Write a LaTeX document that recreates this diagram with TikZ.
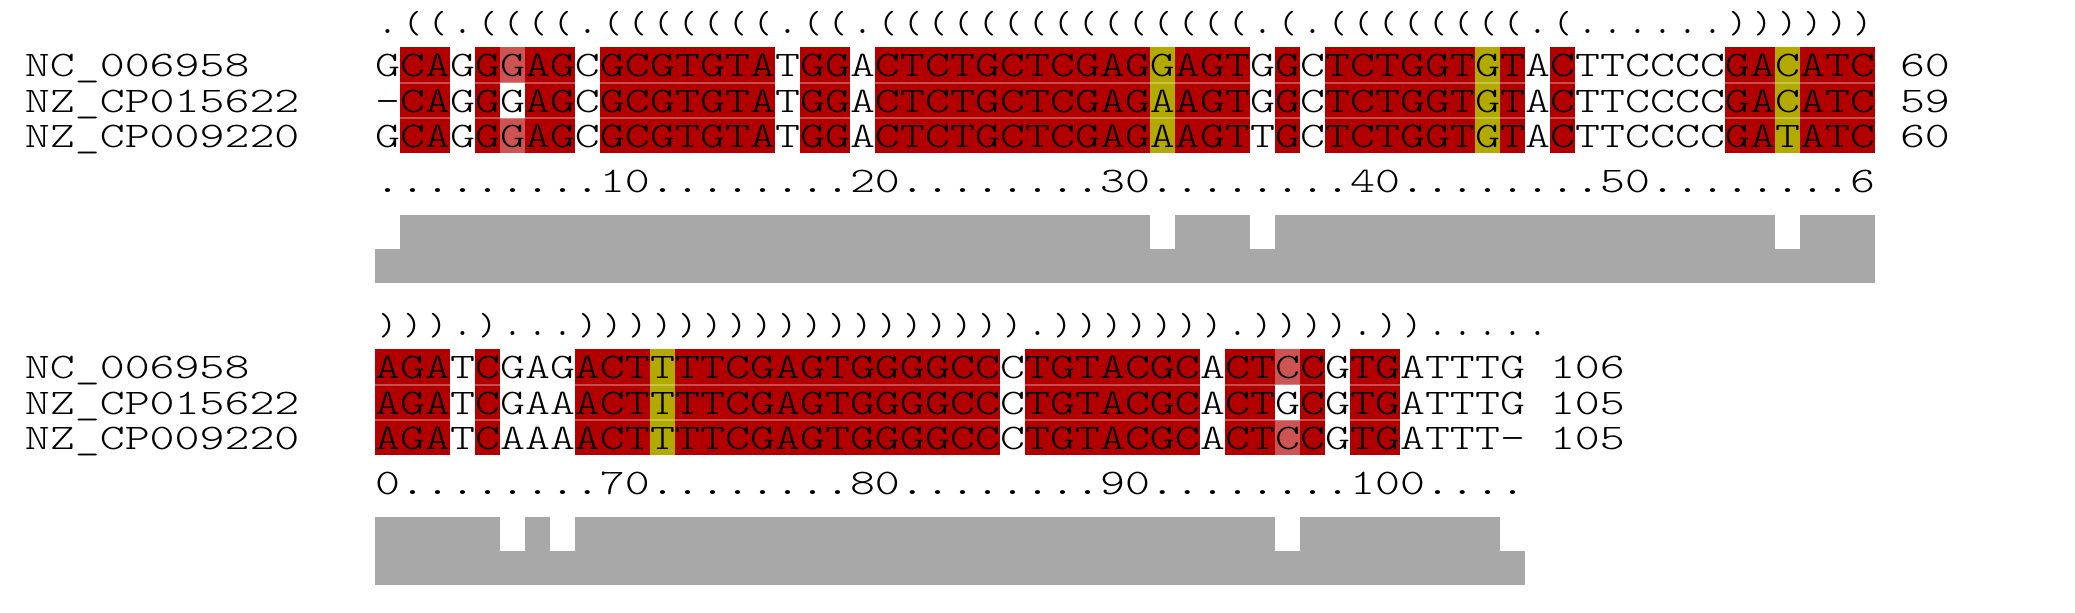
\documentclass[tikz,border=0pt]{standalone}
\usepackage{fontspec}
\newfontfamily\seqfont{lmmonolt10-regular.otf}[FakeStretch=1.32]
\newfontfamily\structfont{lmmono10-regular.otf}

\definecolor{pairred}{RGB}{178,0,0}
\definecolor{pairlight}{RGB}{206,84,84}
\definecolor{pairolive}{RGB}{178,170,0}
\definecolor{consgray}{RGB}{168,168,168}

% one letter per alignment column (25px wide)
\newcommand\cols[1]{\colsi#1\relax}
\def\colsi#1{\ifx#1\relax\else\hbox to 12.5pt{\hss#1\hss}\expandafter\colsi\fi}

\tikzset{
  seq/.style={anchor=base west, inner sep=0pt, outer sep=0pt,
    font=\seqfont\fontsize{18pt}{18pt}\selectfont},
  struct/.style={anchor=base west, inner sep=0pt, outer sep=0pt,
    font=\structfont\fontsize{16pt}{16pt}\selectfont},
  rowline/.style={white, opacity=0.3, line width=1},
}

\begin{document}
\begin{tikzpicture}[x=0.5pt, y=-0.5pt]
  \useasboundingbox (0,0) rectangle (2075,612);

  % block 1 (columns 1-60)
  \foreach \a/\b in {2/3, 5/5, 7/8, 10/16, 18/19, 21/31, 33/35, 37/37, 39/44, 46/46, 48/48, 55/56, 58/60}
    \fill[pairred] ({375+25*(\a-1)},47.3) rectangle ({375+25*\b},153.3);
  \foreach \a in {32, 45, 57}
    \fill[pairolive] ({375+25*(\a-1)},47.3) rectangle ({375+25*\a},153.3);
  \fill[pairlight] (500,47.3) rectangle (525,82.6);
  \fill[pairlight] (500,118) rectangle (525,153.3);
  \draw[rowline] (375,82.6) -- (1875,82.6);
  \draw[rowline] (375,118) -- (1875,118);

  \node[struct] (str1) at (375,33) {\cols{.((.((((.(((((((.((.(((((((((((((((.(.((((((((.(......))))))}};
  \node[seq] (lab1a) at (25,76.8) {NC\_006958};
  \node[seq] (lab1b) at (25,112.1) {NZ\_CP015622};
  \node[seq] (lab1c) at (25,147.5) {NZ\_CP009220};
  \node[seq] (seq1a) at (375,76.8) {\cols{GCAGGGAGCGCGTGTATGGACTCTGCTCGAGGAGTGGCTCTGGTGTACTTCCCCGACATC}};
  \node[seq] (seq1b) at (375,112.1) {\cols{-CAGGGAGCGCGTGTATGGACTCTGCTCGAGAAGTGGCTCTGGTGTACTTCCCCGACATC}};
  \node[seq] (seq1c) at (375,147.5) {\cols{GCAGGGAGCGCGTGTATGGACTCTGCTCGAGAAGTTGCTCTGGTGTACTTCCCCGATATC}};
  \node[seq] (num1a) at (1900,76.8) {60};
  \node[seq] (num1b) at (1900,112.1) {59};
  \node[seq] (num1c) at (1900,147.5) {60};
  \node[seq] (rul1) at (375,192) {\cols{.........10........20........30........40........50........6}};

  \fill[consgray] (375,249) rectangle (1875,283);
  \foreach \a/\b in {2/31, 33/35, 37/56, 58/60}
    \fill[consgray] ({375+25*(\a-1)},215) rectangle ({375+25*\b},249.5);

  % block 2 (columns 61-106)
  \begin{scope}[shift={(0,302)}]
    \foreach \a/\b in {1/3, 5/5, 9/11, 13/25, 27/33, 35/36, 38/38, 40/41}
      \fill[pairred] ({375+25*(\a-1)},47.3) rectangle ({375+25*\b},153.3);
    \fill[pairolive] (650,47.3) rectangle (675,153.3);
    \fill[pairlight] (1275,47.3) rectangle (1300,82.6);
    \fill[pairlight] (1275,118) rectangle (1300,153.3);
    \draw[rowline] (375,82.6) -- (1525,82.6);
    \draw[rowline] (375,118) -- (1525,118);

    \node[struct] (str2) at (375,33) {\cols{))).)...)))))))))))))))))).))))))).)))).)).....}};
    \node[seq] (lab2a) at (25,76.8) {NC\_006958};
    \node[seq] (lab2b) at (25,112.1) {NZ\_CP015622};
    \node[seq] (lab2c) at (25,147.5) {NZ\_CP009220};
    \node[seq] (seq2a) at (375,76.8) {\cols{AGATCGAGACTTTTCGAGTGGGGCCCTGTACGCACTCCGTGATTTG}};
    \node[seq] (seq2b) at (375,112.1) {\cols{AGATCGAAACTTTTCGAGTGGGGCCCTGTACGCACTGCGTGATTTG}};
    \node[seq] (seq2c) at (375,147.5) {\cols{AGATCAAAACTTTTCGAGTGGGGCCCTGTACGCACTCCGTGATTT-}};
    \node[seq] (num2a) at (1550,76.8) {106};
    \node[seq] (num2b) at (1550,112.1) {105};
    \node[seq] (num2c) at (1550,147.5) {105};
    \node[seq] (rul2) at (375,192) {\cols{0........70........80........90........100....}};

    \fill[consgray] (375,249) rectangle (1525,283);
    \foreach \a/\b in {1/5, 7/7, 9/36, 38/45}
      \fill[consgray] ({375+25*(\a-1)},215) rectangle ({375+25*\b},249.5);
  \end{scope}
\end{tikzpicture}
\end{document}
